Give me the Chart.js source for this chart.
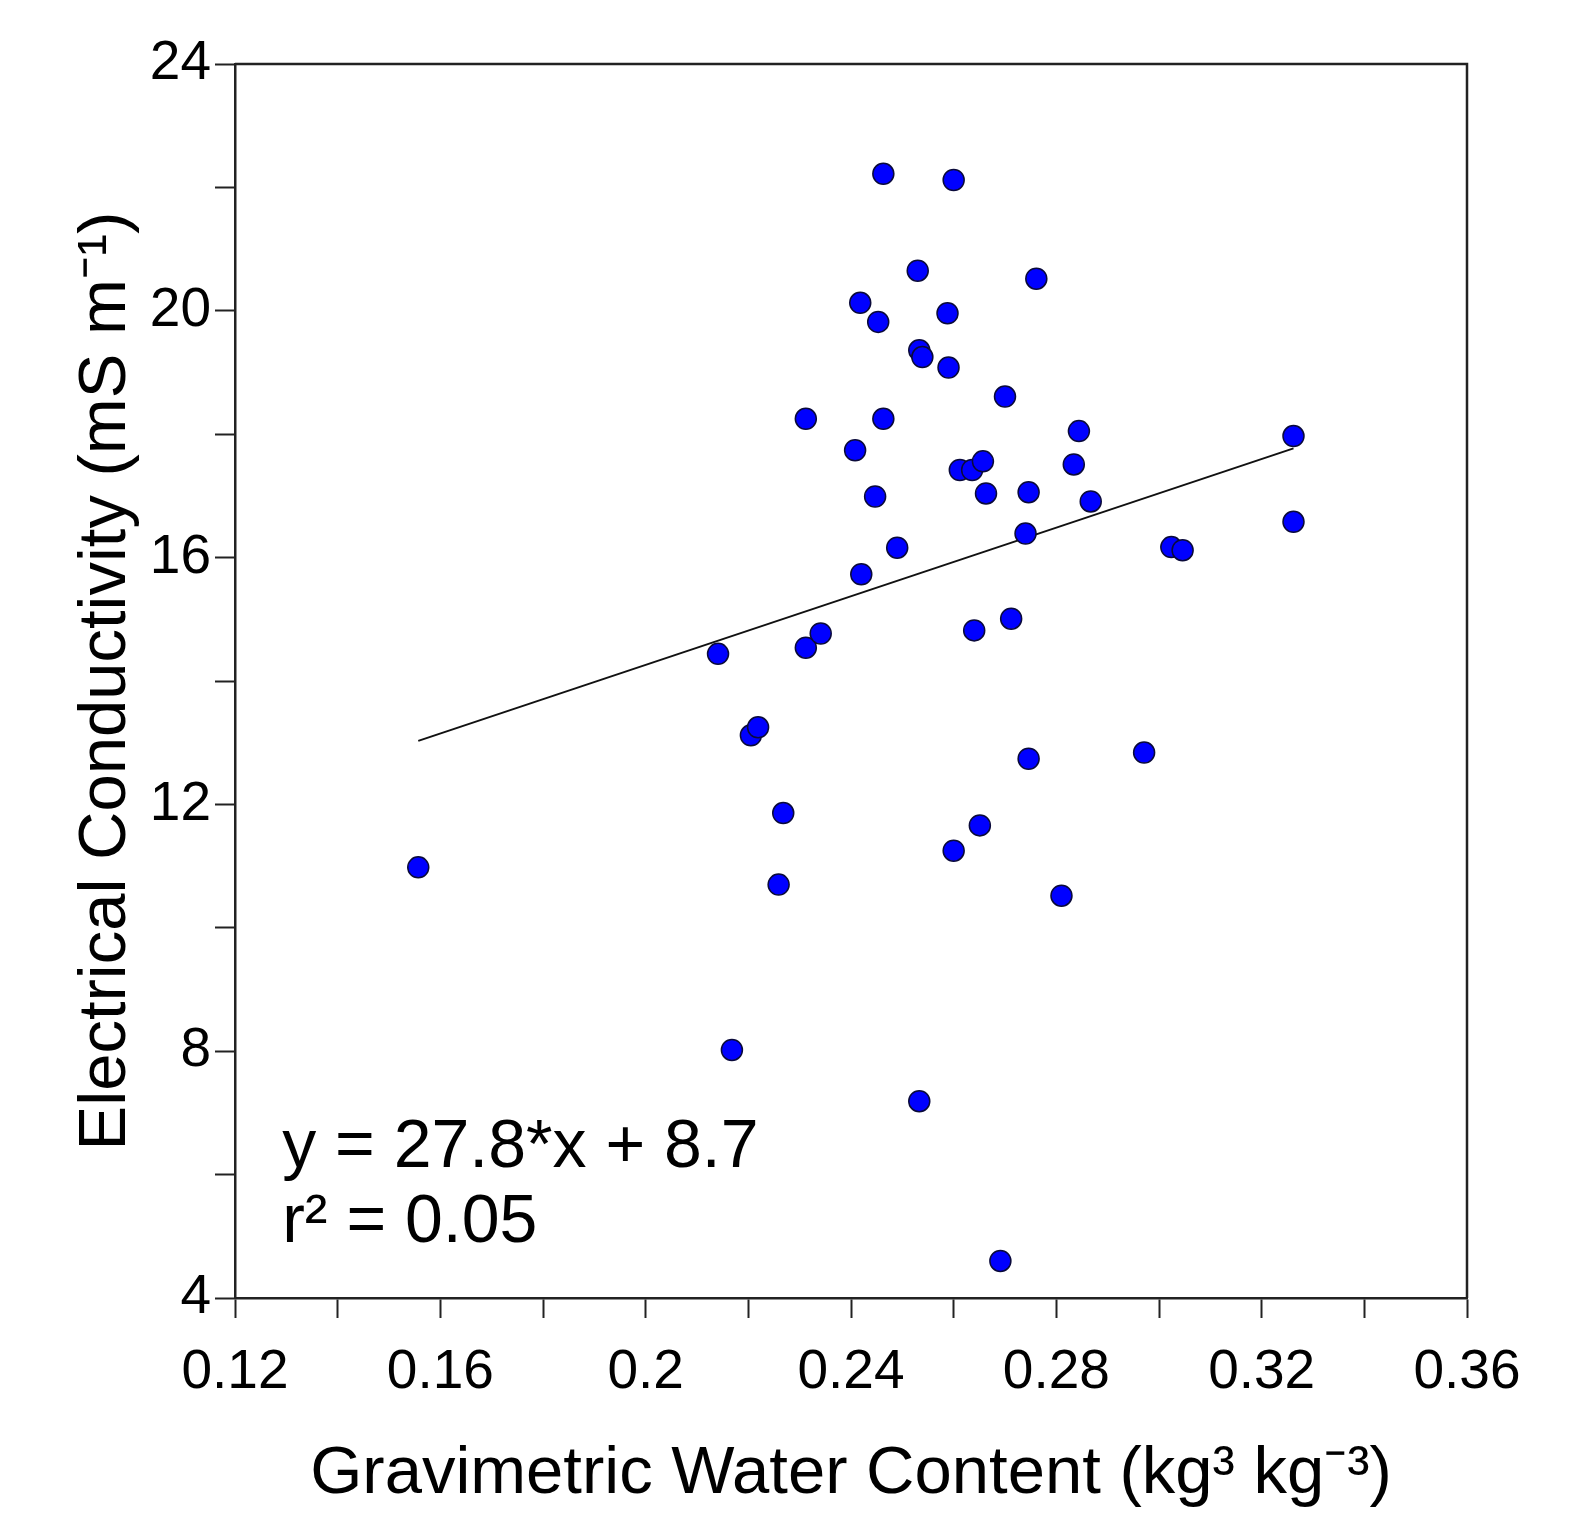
<!DOCTYPE html>
<html>
<head>
<meta charset="utf-8">
<script src="https://cdn.jsdelivr.net/npm/chart.js@4.4.1/dist/chart.umd.min.js"></script>
<style>
  html, body { margin: 0; padding: 0; background: #fff; }
  #wrap { width: 1581px; height: 1513px; position: relative; }
</style>
</head>
<body>
<div id="wrap"><canvas id="ecChart"></canvas></div>
<script>
// gravimetric water content (kg3 kg-3) and electrical conductivity (mS m-1)
var waterContent = [
  0.1557, 0.2141, 0.2168, 0.2205, 0.2219, 0.2259, 0.2268, 0.2312, 0.2312, 0.2341,
  0.2408, 0.2418, 0.2420, 0.2447, 0.2453, 0.2463, 0.2463, 0.2490, 0.2530, 0.2533,
  0.2539, 0.2533, 0.2588, 0.2590, 0.2600, 0.2600, 0.2612, 0.2636, 0.2640, 0.2651,
  0.2657, 0.2663, 0.2691, 0.2700, 0.2712, 0.2740, 0.2746, 0.2746, 0.2761, 0.2810,
  0.2834, 0.2844, 0.2867, 0.2971, 0.3024, 0.3046, 0.3262, 0.3262
];
var conductivity = [
  10.98, 14.44, 8.02, 13.12, 13.25, 10.70, 11.86, 18.25, 14.54, 14.77,
  17.74, 20.13, 15.73, 16.99, 19.82, 22.22, 18.25, 16.16, 20.65, 19.36,
  19.25, 7.19, 19.96, 19.08, 22.12, 11.25, 17.42, 17.42, 14.82, 11.66,
  17.56, 17.04, 4.60, 18.61, 15.01, 16.39, 17.06, 12.74, 20.52, 10.52,
  17.51, 18.05, 16.91, 12.84, 16.17, 16.12, 17.97, 16.58
];

// fitted line end points
var trendX = [0.1557, 0.3262];
var trendY = [13.03, 17.77];

var xTicks = [0.12, 0.16, 0.2, 0.24, 0.28, 0.32, 0.36];
var yTicks = [4, 8, 12, 16, 20, 24];

var equationLines = ['y = 27.8*x + 8.7', 'r\u00B2 = 0.05'];

const ctx_ec = 'ecChart';

// box round the plot and the regression text
const frameAndText = {
  id: 'frameAndText',
  afterDatasetsDraw(chart) {
    const c = chart.ctx;
    const a = chart.chartArea;
    const xs = chart.scales.x, ys = chart.scales.y;
    c.save();
    c.strokeStyle = '#222';
    c.lineWidth = 2.5;
    c.beginPath();
    c.moveTo(a.left, a.top);
    c.lineTo(a.right, a.top);
    c.lineTo(a.right, a.bottom);
    c.stroke();

    c.fillStyle = '#000';
    c.font = '68px "Liberation Sans", Arial, sans-serif';
    c.textBaseline = 'alphabetic';
    c.textAlign = 'left';
    c.fillText(equationLines[0], xs.getPixelForValue(0.1292), ys.getPixelForValue(6.12));
    c.fillText(equationLines[1], xs.getPixelForValue(0.1292), ys.getPixelForValue(4.91));
    c.restore();
  }
};

const ecChart = new Chart(ctx_ec, {
  type: 'scatter',
  data: {
    datasets: [{
      label: 'EC',
      data: waterContent.map((w, i) => ({ x: w, y: conductivity[i] })),
      backgroundColor: '#0000ff',
      borderColor: '#0a0a3a',
      borderWidth: 1.5,
      pointRadius: 10.5,
      order: 0
    }, {
      type: 'line',
      label: 'fit',
      data: trendX.map((x, i) => ({ x: x, y: trendY[i] })),
      borderColor: '#111',
      borderWidth: 2,
      pointRadius: 0,
      fill: false,
      order: 1
    }]
  },
  options: {
    responsive: true,
    maintainAspectRatio: false,
    animation: false,
    layout: { padding: { top: 64, right: 114, left: 0, bottom: 0 } },
    plugins: {
      legend: { display: false },
      tooltip: { enabled: false }
    },
    scales: {
      x: {
        type: 'linear',
        min: 0.12,
        max: 0.36,
        afterFit: (s) => { s.height = 215; },
        ticks: {
          stepSize: 0.02,
          padding: 22,
          color: '#000',
          font: { family: '"Liberation Sans", Arial, sans-serif', size: 55 },
          maxRotation: 0,
          autoSkip: false,
          callback: (v) => {
            const r = Math.round(v * 100) / 100;
            return xTicks.some(t => Math.abs(t - r) < 1e-9) ? String(r) : '';
          }
        },
        grid: { drawOnChartArea: false, drawTicks: true, tickLength: 20, tickColor: '#222', tickWidth: 2 },
        border: { display: true, color: '#222', width: 2.5 },
        title: {
          display: true,
          text: 'Gravimetric Water Content (kg\u00B3 kg\u207B\u00B3)',
          color: '#000',
          font: { family: '"Liberation Sans", Arial, sans-serif', size: 67, lineHeight: 1.15 },
          padding: { top: 0, bottom: 0 }
        }
      },
      y: {
        type: 'linear',
        min: 4,
        max: 24,
        afterFit: (s) => { s.width = 235; },
        ticks: {
          stepSize: 2,
          padding: 4,
          color: '#000',
          font: { family: '"Liberation Sans", Arial, sans-serif', size: 55 },
          autoSkip: false,
          callback: (v) => yTicks.includes(v) ? String(v) : ''
        },
        grid: { drawOnChartArea: false, drawTicks: true, tickLength: 20, tickColor: '#222', tickWidth: 2 },
        border: { display: true, color: '#222', width: 2.5 },
        title: {
          display: true,
          text: 'Electrical Conductivity (mS m\u207B\u00B9)',
          color: '#000',
          font: { family: '"Liberation Sans", Arial, sans-serif', size: 67, lineHeight: 1.15 },
          padding: { top: 68, bottom: 0 }
        }
      }
    }
  },
  plugins: [frameAndText]
});
</script>
</body>
</html>
